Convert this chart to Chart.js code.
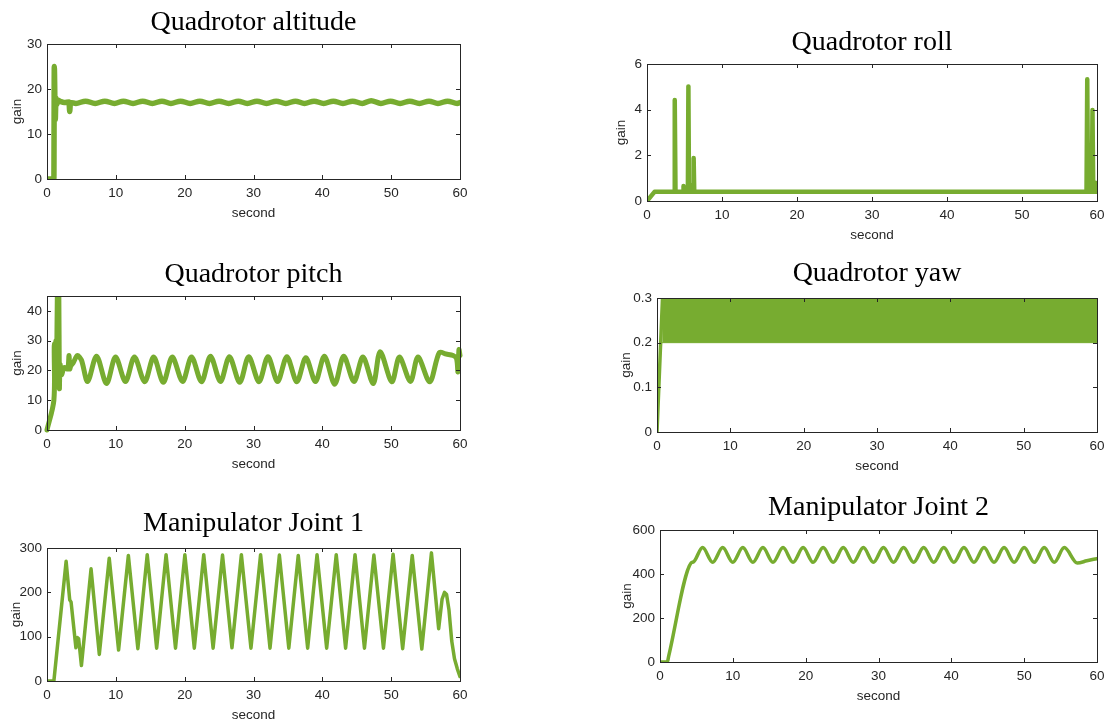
<!DOCTYPE html>
<html>
<head>
<meta charset="utf-8">
<script src="https://cdn.jsdelivr.net/npm/chart.js@4.4.1/dist/chart.umd.min.js"></script>
<style>
  html, body { margin: 0; padding: 0; background: #fff; }
  body { width: 1112px; height: 727px; position: relative; overflow: hidden; }
  canvas { position: absolute; }
</style>
</head>
<body>
<canvas id="c1"></canvas>
<canvas id="c2"></canvas>
<canvas id="c3"></canvas>
<canvas id="c4"></canvas>
<canvas id="c5"></canvas>
<canvas id="c6"></canvas>
<script>
// ---- data (time in seconds, gain) ----
const secondTicks = [0, 10, 20, 30, 40, 50, 60];

const altTicks = [0, 10, 20, 30];
const altT = [0, 1.0, 1.06, 1.2, 1.3, 1.4, 1.6, 2.0, 2.5, 3.2, 3.3, 3.4,
  4.2, 5.6, 7.0, 8.4, 9.8, 11.1, 12.5, 13.9, 15.3, 16.7, 18.0, 19.4, 20.8, 22.2,
  23.6, 25.0, 26.4, 27.8, 29.1, 30.5, 31.9, 33.3, 34.7, 36.1, 37.4, 38.8, 40.2,
  41.6, 43.0, 44.4, 45.8, 47.1, 48.5, 49.9, 51.3, 52.7, 54.1, 55.5, 56.8, 58.2, 59.6, 60];
const altV = [0, 0, 25, 13.2, 18, 16.5, 17.5, 17.2, 17.0, 17.1, 15.0, 17.0,
  16.8, 17.3, 16.8, 17.3, 16.8, 17.3, 16.8, 17.3, 16.8, 17.3, 16.8, 17.3, 16.8, 17.3,
  16.8, 17.3, 16.8, 17.3, 16.8, 17.3, 16.8, 17.3, 16.8, 17.3, 16.8, 17.3, 16.8,
  17.3, 16.8, 17.3, 16.8, 17.4, 16.8, 17.3, 16.8, 17.3, 16.8, 17.3, 16.8, 17.3, 16.8, 17.0];

const rollTicks = [0, 2, 4, 6];
const rollT = [0, 1.0, 3.6, 3.7, 3.8, 4.8, 4.87, 4.95, 5.45, 5.52, 5.6, 5.9, 5.95, 6.0,
  6.15, 6.22, 6.3, 58.6, 58.7, 58.8, 59.3, 59.4, 59.5, 59.7, 59.8, 59.9, 60];
const rollV = [0, 0.4, 0.4, 4.42, 0.4, 0.4, 0.66, 0.4, 0.4, 5.02, 0.4, 0.4, 0.7, 0.4,
  0.4, 1.88, 0.4, 0.4, 5.33, 0.4, 0.4, 3.98, 0.4, 0.4, 0.8, 0.4, 0.45];

const pitchTicks = [0, 10, 20, 30, 40];
const pitchT = [0, 1.0, 1.05, 1.12, 1.2, 1.3, 1.4, 1.5, 1.62, 1.72, 1.8, 1.9, 2.1, 2.5,
  3.0, 3.2, 3.3, 3.45, 3.8, 4.4, 5.0, 5.9, 7.2, 8.65, 9.95, 11.4, 12.7, 14.2, 15.5,
  16.9, 18.2, 19.7, 21.0, 22.45, 23.75, 25.2, 26.5, 28.0, 29.3, 30.8, 32.1, 33.5,
  34.85, 36.3, 37.6, 39.0, 40.3, 41.8, 43.1, 44.6, 45.9, 47.4, 48.4, 50.1, 51.2,
  52.8, 53.9, 55.6, 57.0, 58.0, 59.0, 59.5, 59.7, 59.85, 60];
const pitchV = [0, 10, 28, 29, 17, 30, 21, 45, 50, 45, 14, 22, 18.5, 21,
  20.5, 25, 20.5, 21.5, 22.5, 25, 23.5, 16.3, 24.8, 15.6, 24.5, 16.3, 24.5, 16.2, 24.5,
  16.0, 24.5, 16.3, 24.5, 16.2, 24.8, 16.3, 24.6, 16.0, 24.6, 16.2, 24.6, 16.3,
  24.6, 16.2, 24.3, 16.3, 24.8, 15.4, 24.8, 16.3, 24.5, 15.6, 26.3, 16.2, 24.5,
  16.3, 24.5, 16.2, 26, 25.5, 25, 24, 19.5, 27, 25];

const yawTicks = [0, 0.1, 0.2, 0.3];
const yawRampT = [0, 0.75];
const yawRampV = [0, 0.3];
const yawBandT = [0.72, 60];
const yawHi = [0.3, 0.3];
const yawLo = [0.2, 0.2];

const j1Ticks = [0, 100, 200, 300];
const j1T = [0, 1.0, 2.78, 3.3, 3.5, 4.2, 4.4, 4.6, 5.0, 6.4, 7.6, 9.04, 10.4, 11.82, 13.2,
  14.56, 15.93, 17.3, 18.67, 20.03, 21.4, 22.77, 24.13, 25.5, 26.87, 28.24, 29.63, 31.03,
  32.4, 33.76, 35.13, 36.5, 37.87, 39.23, 40.63, 42.02, 43.38, 44.75, 46.12, 47.49, 48.88,
  50.28, 51.67, 53.06, 54.45, 55.85, 56.9, 57.4, 57.75, 58.05, 58.4, 58.8, 59.2, 59.6, 60];
const j1V = [0, 0, 270, 183, 178, 75, 98, 95, 35, 253, 60, 277, 70, 283, 73,
  285, 74, 285, 74, 285, 74, 285, 74, 284, 75, 285, 74, 285,
  74, 284, 74, 283, 74, 285, 74, 285, 74, 285, 74, 284, 74,
  286, 73, 283, 72, 289, 118, 185, 200, 195, 160, 90, 50, 28, 10];

const j2Ticks = [0, 200, 400, 600];
const j2T = [0, 1.0, 1.2, 4.26, 4.6, 5.85, 7.23, 8.61, 9.99, 11.37, 12.75, 14.13, 15.51,
  16.89, 18.27, 19.65, 21.02, 22.4, 23.78, 25.16, 26.54, 27.92, 29.3, 30.68, 32.06, 33.44,
  34.82, 36.2, 37.58, 38.96, 40.34, 41.72, 43.1, 44.48, 45.86, 47.24, 48.62, 50.0, 51.38,
  52.75, 54.13, 55.51, 57.3, 58.6, 60];
const j2V = [0, 0, 28, 450, 455, 520, 453, 520, 453, 520, 453, 520, 453,
  520, 453, 520, 453, 520, 453, 520, 453, 520, 453, 520, 453, 520,
  453, 520, 453, 520, 453, 520, 453, 520, 453, 520, 453, 520, 453,
  520, 453, 520, 450, 460, 470];

// ---- styling ----
const GREEN = '#77ac30';
const AXIS = '#262626';
const tickFont = { family: 'Liberation Sans', size: 13.5 };
const titleFont = { family: 'Liberation Serif', size: 28, weight: 'normal' };

function pts(t, v) {
  return t.map((x, i) => ({ x: x, y: v[i] }));
}

function line(t, v, w, smooth) {
  return {
    data: pts(t, v),
    borderColor: GREEN,
    borderWidth: w,
    borderJoinStyle: 'round',
    borderCapStyle: 'round',
    pointRadius: 0,
    fill: false,
    tension: 0,
    cubicInterpolationMode: smooth ? 'monotone' : 'default'
  };
}

// MATLAB-like box with inward ticks on all four sides
const boxPlugin = {
  id: 'box',
  afterDatasetsDraw(chart) {
    const { ctx, chartArea: a, scales: { x, y } } = chart;
    ctx.save();
    ctx.strokeStyle = AXIS;
    ctx.lineWidth = 1;
    ctx.beginPath();
    x.ticks.forEach(t => {
      const px = Math.round(x.getPixelForValue(t.value)) + 0.5;
      ctx.moveTo(px, a.bottom); ctx.lineTo(px, a.bottom - 4);
      ctx.moveTo(px, a.top); ctx.lineTo(px, a.top + 4);
    });
    y.ticks.forEach(t => {
      const py = Math.round(y.getPixelForValue(t.value)) + 0.5;
      ctx.moveTo(a.left, py); ctx.lineTo(a.left + 4, py);
      ctx.moveTo(a.right, py); ctx.lineTo(a.right - 4, py);
    });
    ctx.stroke();
    ctx.strokeRect(Math.round(a.left) + 0.5, Math.round(a.top) + 0.5,
      Math.round(a.right - a.left), Math.round(a.bottom - a.top));
    ctx.restore();
  }
};

function panel(id, g, title, yTicks, yMax, datasets) {
  const yw = 45, xh = 42, padR = 20, th = titleFont.size * 1.2;
  const top = Math.round(g.titleY - th / 2);
  const cv = document.getElementById(id);
  cv.style.left = (g.L - yw) + 'px';
  cv.style.top = top + 'px';
  cv.width = g.R - g.L + yw + padR;
  cv.height = g.B - top + xh;

  new Chart(cv, {
    type: 'line',
    data: { datasets: datasets },
    plugins: [boxPlugin],
    options: {
      responsive: false,
      animation: false,
      events: [],
      layout: { padding: { left: 0, top: 0, right: padR, bottom: 0 } },
      plugins: {
        legend: { display: false },
        tooltip: { enabled: false },
        title: {
          display: true,
          text: title,
          fullSize: false,
          color: '#000',
          font: titleFont,
          padding: { top: 0, bottom: g.T - top - th }
        }
      },
      scales: {
        x: {
          type: 'linear',
          min: 0,
          max: 60,
          afterBuildTicks: s => { s.ticks = secondTicks.map(v => ({ value: v })); },
          afterFit: s => { s.height = xh; },
          grid: { display: false, drawTicks: false },
          border: { display: false },
          ticks: { font: tickFont, color: AXIS, padding: 6, maxRotation: 0, autoSkip: false },
          title: { display: true, text: 'second', font: tickFont, color: AXIS, padding: { top: 0, bottom: 0 } }
        },
        y: {
          type: 'linear',
          min: 0,
          max: yMax,
          afterBuildTicks: s => { s.ticks = yTicks.map(v => ({ value: v })); },
          afterFit: s => { s.width = yw; },
          grid: { display: false, drawTicks: false },
          border: { display: false },
          ticks: { font: tickFont, color: AXIS, padding: 5, autoSkip: false },
          title: { display: true, text: 'gain', font: tickFont, color: AXIS,
                   padding: { top: g.gainX - g.L + yw - 8, bottom: 0 } }
        }
      }
    }
  });
}

panel('c1', { L: 47, T: 44, R: 460, B: 179, titleY: 23, gainX: 17 },
  'Quadrotor altitude', altTicks, 30, [line(altT, altV, 5.5, true)]);

panel('c2', { L: 647, T: 64, R: 1097, B: 201, titleY: 43, gainX: 621 },
  'Quadrotor roll', rollTicks, 6, [line(rollT, rollV, 4.5, false)]);

const pitchLine = line(pitchT, pitchV, 5, false);
pitchLine.tension = 0.3;
pitchLine.clip = { left: 3, top: 0, right: 3, bottom: 3 };
panel('c3', { L: 47, T: 296, R: 460, B: 430, titleY: 275, gainX: 17 },
  'Quadrotor pitch', pitchTicks, 45, [pitchLine]);

const yawHiSet = line(yawBandT, yawHi, 1, false);
yawHiSet.fill = '+1';
yawHiSet.backgroundColor = GREEN;
panel('c4', { L: 657, T: 298, R: 1097, B: 432, titleY: 274, gainX: 626 },
  'Quadrotor yaw', yawTicks, 0.3,
  [yawHiSet, line(yawBandT, yawLo, 1, false), line(yawRampT, yawRampV, 3.5, false)]);

panel('c5', { L: 47, T: 548, R: 460, B: 681, titleY: 524, gainX: 16 },
  'Manipulator Joint 1', j1Ticks, 300, [line(j1T, j1V, 3.5, false)]);

panel('c6', { L: 660, T: 530, R: 1097, B: 662, titleY: 508, gainX: 627 },
  'Manipulator Joint 2', j2Ticks, 600, [line(j2T, j2V, 3.5, true)]);
</script>
</body>
</html>
